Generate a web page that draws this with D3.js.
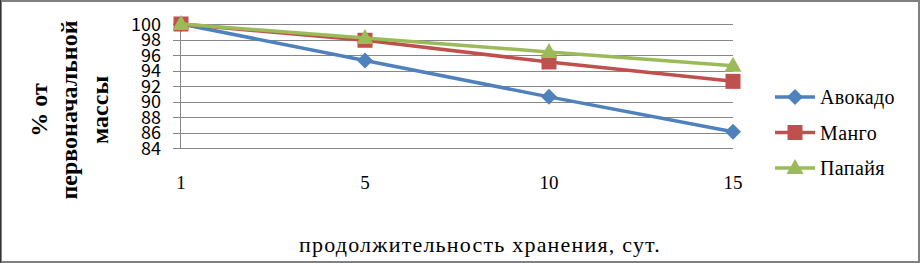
<!DOCTYPE html>
<html>
<head>
<meta charset="utf-8">
<script src="https://cdn.jsdelivr.net/npm/d3@7"></script>
<style>
  body { margin: 0; background: #fff; }
  svg { display: block; }
</style>
</head>
<body>
<svg id="chart" width="920" height="263"></svg>
<script>
var days = ["1", "5", "10", "15"];
var avocado = [100, 95.3, 90.6, 86.1];
var mango = [100, 97.9, 95.1, 92.6];
var papaya = [100, 98.2, 96.4, 94.6];
var yTicks = [84, 86, 88, 90, 92, 94, 96, 98, 100];

var series = [
  { name: "Авокадо", values: avocado, color: "#4F81BD", shape: "diamond" },
  { name: "Манго", values: mango, color: "#C0504D", shape: "square" },
  { name: "Папайя", values: papaya, color: "#9BBB59", shape: "triangle" }
];

var serif = "'Liberation Serif', 'Times New Roman', serif";
var svg = d3.select("#chart");

// frame
svg.append("rect").attr("x", 1).attr("y", 1).attr("width", 918).attr("height", 261)
  .attr("fill", "#fff").attr("stroke", "#808080").attr("stroke-width", 2);
svg.append("line").attr("x1", 0.5).attr("x2", 0.5).attr("y1", 0).attr("y2", 263)
  .attr("stroke", "#333").attr("stroke-width", 1);

var x = d3.scalePoint().domain(days).range([181, 733]);
var y = d3.scaleLinear().domain([84, 100]).range([148, 24]);

// grid
svg.append("g").selectAll("line").data(yTicks).enter().append("line")
  .attr("x1", 173).attr("x2", 733)
  .attr("y1", function(d) { return Math.round(y(d)) + 0.5; })
  .attr("y2", function(d) { return Math.round(y(d)) + 0.5; })
  .attr("stroke", "#868686").attr("stroke-width", 1);

svg.append("line").attr("x1", 180.5).attr("x2", 180.5).attr("y1", 24).attr("y2", 149)
  .attr("stroke", "#868686");

// y tick labels
svg.append("g").selectAll("text").data(yTicks).enter().append("text")
  .attr("x", 161).attr("y", function(d) { return y(d) + 6.5; })
  .attr("text-anchor", "end")
  .attr("font-family", "'Noto Sans CJK JP', 'DejaVu Sans', sans-serif")
  .attr("font-size", 18)
  .attr("fill", "#000")
  .text(function(d) { return d; });

// x tick labels
svg.append("g").selectAll("text").data(days).enter().append("text")
  .attr("x", function(d) { return x(d); }).attr("y", 189)
  .attr("text-anchor", "middle")
  .attr("font-family", serif)
  .attr("font-size", 19)
  .text(function(d) { return d; });

// axis titles
svg.append("text").attr("x", 480).attr("y", 252)
  .attr("text-anchor", "middle")
  .attr("font-family", serif)
  .attr("font-size", 22)
  .attr("letter-spacing", 1.2)
  .text("продолжительность хранения, сут.");

var yTitle = svg.append("text")
  .attr("transform", "translate(69,110) rotate(-90)")
  .attr("text-anchor", "middle")
  .attr("font-family", serif)
  .attr("font-size", 24).attr("font-weight", "bold");
var titleLines = ["% от", "первоначальной", "массы"];
titleLines.forEach(function(t, i) {
  yTitle.append("tspan").attr("x", 0).attr("y", (i - 1) * 30.5 + 8).text(t);
});

var line = d3.line()
  .x(function(d, i) { return x(days[i]); })
  .y(function(d) { return y(d); });

function marker(g, shape, color, cx, cy) {
  if (shape === "diamond") {
    g.append("path").attr("d", "M" + cx + "," + (cy - 8) + "L" + (cx + 8) + "," + cy + "L" + cx + "," + (cy + 8) + "L" + (cx - 8) + "," + cy + "Z")
      .attr("fill", color);
  } else if (shape === "square") {
    g.append("rect").attr("x", cx - 7.5).attr("y", cy - 7.5).attr("width", 15).attr("height", 15)
      .attr("fill", color);
  } else {
    g.append("path").attr("d", "M" + cx + "," + (cy - 9) + "L" + (cx + 8.5) + "," + (cy + 6) + "L" + (cx - 8.5) + "," + (cy + 6) + "Z")
      .attr("fill", color);
  }
}

series.forEach(function(s) {
  var g = svg.append("g");
  g.append("path").datum(s.values).attr("d", line)
    .attr("fill", "none").attr("stroke", s.color).attr("stroke-width", 3.5);
  s.values.forEach(function(v, i) {
    marker(g, s.shape, s.color, x(days[i]), y(v));
  });
});

// legend
series.forEach(function(s, i) {
  var ly = 97 + i * 35.5;
  var g = svg.append("g");
  g.append("line").attr("x1", 775).attr("x2", 815).attr("y1", ly).attr("y2", ly)
    .attr("stroke", s.color).attr("stroke-width", 3.5);
  marker(g, s.shape, s.color, 795, ly);
  g.append("text").attr("x", 820).attr("y", ly + 7)
    .attr("font-family", serif)
    .attr("font-size", 20)
    .attr("letter-spacing", 0.4)
    .text(s.name);
});
</script>
</body>
</html>
